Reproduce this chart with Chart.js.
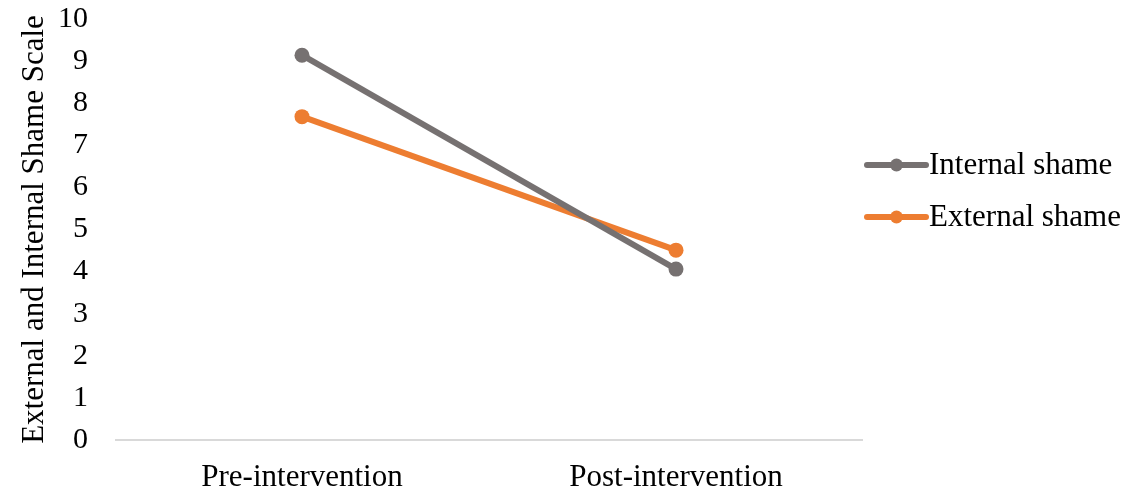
<!DOCTYPE html>
<html>
<head>
<meta charset="utf-8">
<script src="https://cdn.jsdelivr.net/npm/chart.js@4/dist/chart.umd.min.js"></script>
<style>
  html, body { margin: 0; padding: 0; background: #fff; }
  #wrap { width: 1127px; height: 496px; position: relative; }
</style>
</head>
<body>
<div id="wrap"><canvas id="shameChart"></canvas></div>
<script>
const phases = ['Pre-intervention', 'Post-intervention'];
const internalShame = [9.14, 4.06];
const externalShame = [7.68, 4.51];
const seriesNames = ['Internal shame', 'External shame'];
const yTicks = [0, 1, 2, 3, 4, 5, 6, 7, 8, 9, 10];

const GREY = '#767171';
const ORANGE = '#ED7D31';
const FONT = '"Liberation Serif", "Times New Roman", serif';

// legend on the right: line sample with a dot, then the series name
const sideLegend = {
  id: 'sideLegend',
  afterDraw(chart) {
    const ctx = chart.ctx;
    const x0 = 867, x1 = 926;
    chart.data.datasets.forEach((ds, i) => {
      const y = 165 + i * 52;
      ctx.save();
      ctx.strokeStyle = ds.borderColor;
      ctx.lineWidth = 6;
      ctx.lineCap = 'round';
      ctx.beginPath();
      ctx.moveTo(x0, y);
      ctx.lineTo(x1, y);
      ctx.stroke();
      ctx.fillStyle = ds.borderColor;
      ctx.beginPath();
      ctx.arc((x0 + x1) / 2, y, 6.5, 0, Math.PI * 2);
      ctx.fill();
      ctx.fillStyle = '#000';
      ctx.font = '31px ' + FONT;
      ctx.textBaseline = 'middle';
      ctx.fillText(ds.label, x1 + 3, y + 1);
      ctx.restore();
    });
  }
};

new Chart(document.getElementById('shameChart').getContext('2d'), {
  type: 'line',
  data: {
    labels: phases,
    datasets: [
      {
        label: seriesNames[0],
        data: internalShame,
        borderColor: GREY,
        backgroundColor: GREY,
        borderWidth: 6,
        pointRadius: 7.5,
        pointBorderWidth: 0,
        pointBackgroundColor: GREY,
      },
      {
        label: seriesNames[1],
        data: externalShame,
        borderColor: ORANGE,
        backgroundColor: ORANGE,
        borderWidth: 6,
        pointRadius: 7.5,
        pointBorderWidth: 0,
        pointBackgroundColor: ORANGE,
      },
    ],
  },
  options: {
    responsive: true,
    maintainAspectRatio: false,
    animation: false,
    layout: {
      padding: { left: 0, right: 264, top: 0, bottom: 0 },
    },
    scales: {
      x: {
        offset: true,
        grid: { display: false },
        border: { display: false },
        afterFit(axis) { axis.height = 56; },
        ticks: {
          color: '#000',
          font: { family: FONT, size: 31 },
          padding: 11,
        },
      },
      y: {
        min: 0,
        max: 10,
        afterBuildTicks(axis) {
          axis.ticks = yTicks.map((v) => ({ value: v }));
        },
        // fixed axis width, and keep the tick padding from pushing the top down
        afterFit(axis) {
          axis.width = 115;
          axis.paddingTop = 19;
          axis.paddingBottom = 0;
        },
        grid: {
          drawTicks: false,
          lineWidth: 2,
          color: (c) => (c.tick && c.tick.value === 0 ? '#d9d9d9' : 'rgba(0,0,0,0)'),
        },
        border: { display: false },
        ticks: {
          color: '#000',
          font: { family: FONT, size: 30 },
          padding: 27,
        },
        title: {
          display: true,
          text: 'External and Internal Shame Scale',
          color: '#000',
          font: { family: FONT, size: 31 },
          padding: { top: 16, bottom: 0 },
        },
      },
    },
    plugins: {
      legend: { display: false },
      tooltip: { enabled: false },
    },
  },
  plugins: [sideLegend],
});
</script>
</body>
</html>
